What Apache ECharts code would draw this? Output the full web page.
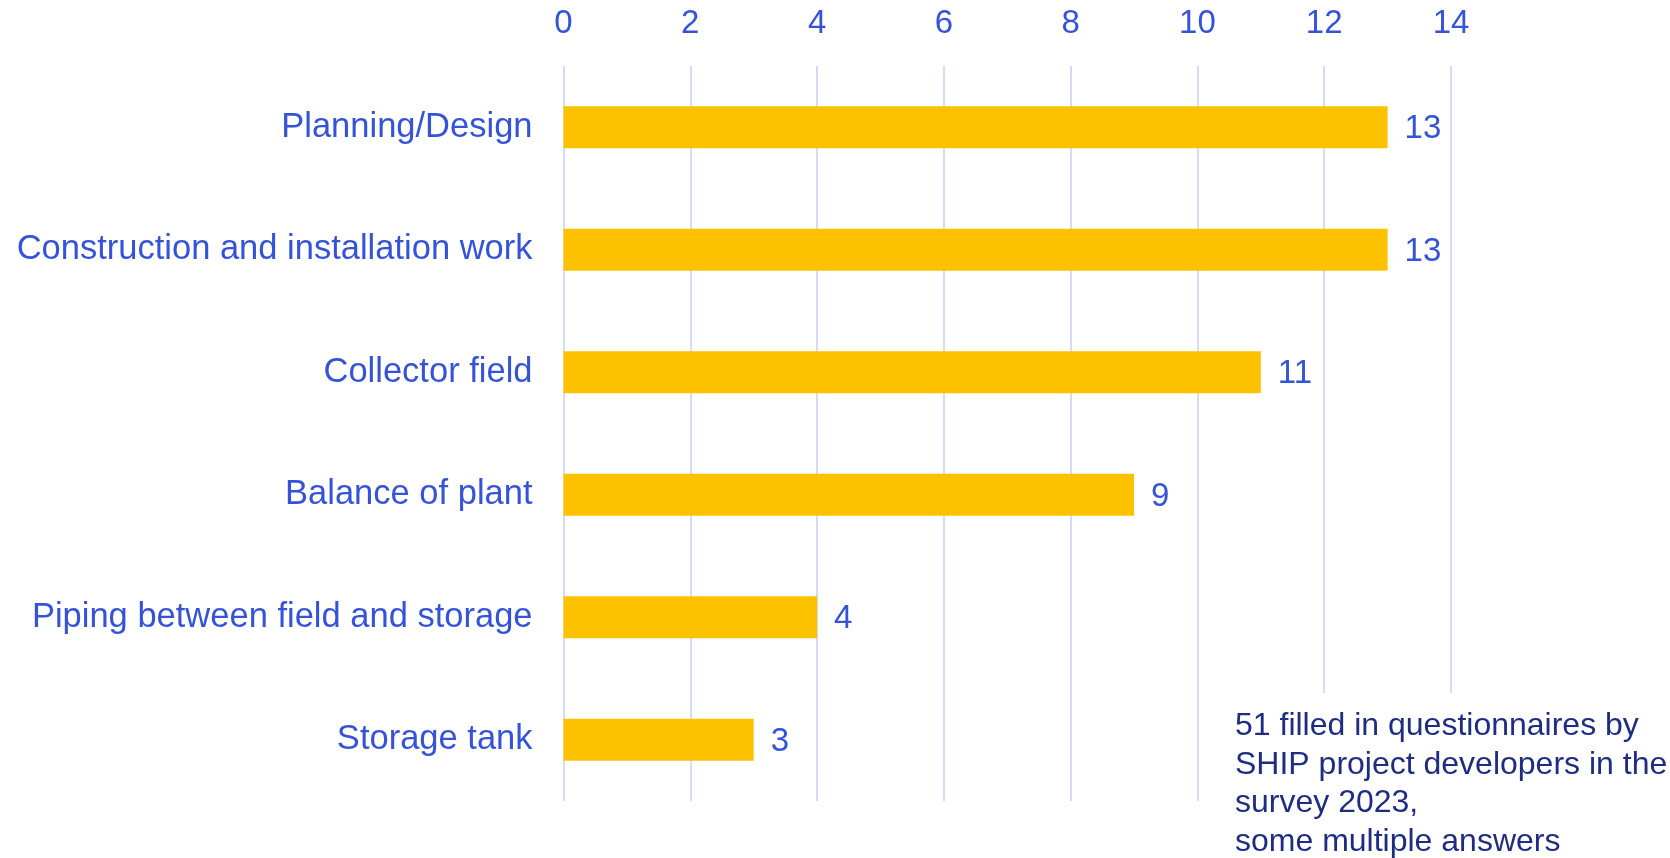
<!DOCTYPE html>
<html>
<head>
<meta charset="utf-8">
<script src="https://cdn.jsdelivr.net/npm/echarts@6/dist/echarts.min.js"></script>
<style>
html,body{margin:0;padding:0;background:#fff;}
#chart{width:1670px;height:858px;}
</style>
</head>
<body>
<div id="chart"></div>
<script>
const categories = ["Planning/Design", "Construction and installation work", "Collector field", "Balance of plant", "Piping between field and storage", "Storage tank"];
const values = [13, 13, 11, 9, 4, 3];
const noteLines = ["51 filled in questionnaires by", "SHIP project developers in the", "survey 2023,", "some multiple answers"];

const labelBlue = '#3553d8';
const chart = echarts.init(document.getElementById('chart'));
chart.setOption({
  animation: false,
  grid: { left: 563.5, right: 219, top: 66, bottom: 57, containLabel: false },
  xAxis: {
    type: 'value', position: 'top', min: 0, max: 14, interval: 2,
    axisLine: { show: false }, axisTick: { show: false },
    axisLabel: { color: labelBlue, fontFamily: 'Liberation Sans, Arial, sans-serif', fontSize: 33, margin: 26 },
    splitLine: { show: true, lineStyle: { color: '#d3dbf6', width: 2 } }
  },
  yAxis: {
    type: 'category', data: categories, inverse: true,
    axisLine: { show: false }, axisTick: { show: false },
    axisLabel: { color: labelBlue, fontFamily: 'Liberation Sans, Arial, sans-serif', fontSize: 34.5, margin: 31 }
  },
  series: [{
    type: 'bar', data: values, barWidth: 42,
    itemStyle: { color: '#fcc200' },
    label: { show: true, position: 'right', distance: 17, color: labelBlue, fontFamily: 'Liberation Sans, Arial, sans-serif', fontSize: 33, offset: [0, 2] }
  }],
  graphic: [
    {
      type: 'rect', left: 1215, top: 693, z: 100,
      shape: { width: 455, height: 165 },
      style: { fill: '#ffffff' }
    },
    {
      type: 'text', left: 1235, top: 707, z: 101,
      style: { text: noteLines.join('\n'), fill: '#1e2d82', font: '32px "Liberation Sans", Arial, sans-serif', lineHeight: 38.5 }
    }
  ]
});
</script>
</body>
</html>
